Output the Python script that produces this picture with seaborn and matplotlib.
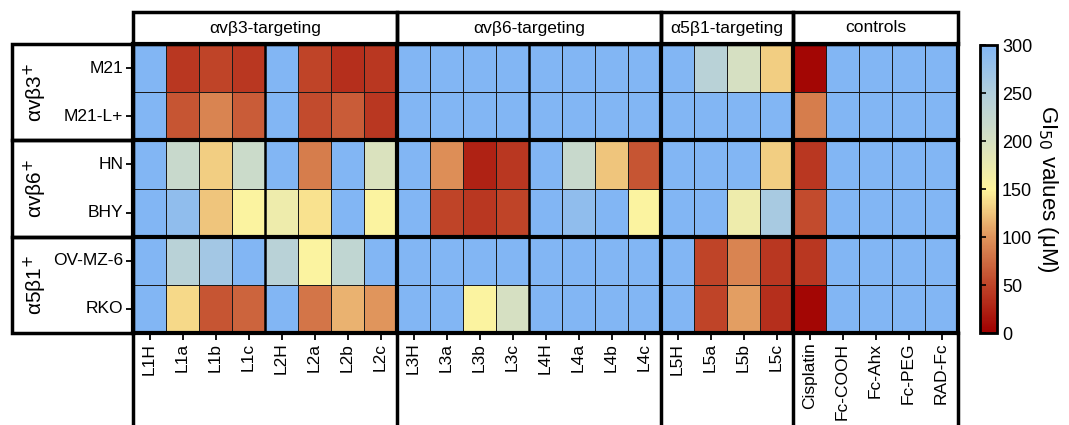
import numpy as np
import pandas as pd
import matplotlib
matplotlib.use('Agg')
import matplotlib.pyplot as plt
from matplotlib.colors import LinearSegmentedColormap
from matplotlib.patches import Rectangle
import seaborn as sns

cells = ['M21', 'M21-L+', 'HN', 'BHY', 'OV-MZ-6', 'RKO']
compounds = ['L1H', 'L1a', 'L1b', 'L1c', 'L2H', 'L2a', 'L2b', 'L2c',
             'L3H', 'L3a', 'L3b', 'L3c', 'L4H', 'L4a', 'L4b', 'L4c',
             'L5H', 'L5a', 'L5b', 'L5c',
             'Cisplatin', 'Fc-COOH', 'Fc-Ahx', 'Fc-PEG', 'RAD-Fc']
# GI50 values (uM), 300 = not reached
m21 = [300, 40, 50, 40, 300, 50, 35, 40, 300, 300, 300, 300, 300, 300, 300, 300, 300, 240, 200, 130, 5, 300, 300, 300, 300]
m21l = [300, 60, 90, 65, 300, 55, 65, 40, 300, 300, 300, 300, 300, 300, 300, 300, 300, 300, 300, 300, 85, 300, 300, 300, 300]
hn = [300, 220, 130, 215, 300, 85, 300, 195, 300, 95, 25, 40, 300, 220, 125, 60, 300, 300, 300, 130, 40, 300, 300, 300, 300]
bhy = [300, 285, 125, 155, 170, 140, 300, 155, 300, 50, 40, 50, 300, 285, 300, 155, 300, 300, 170, 260, 55, 300, 300, 300, 300]
ovmz = [300, 240, 265, 300, 240, 155, 230, 300, 300, 300, 300, 300, 300, 300, 300, 300, 300, 50, 90, 40, 40, 300, 300, 300, 300]
rko = [300, 135, 60, 70, 300, 80, 115, 100, 300, 300, 155, 200, 300, 300, 300, 300, 300, 50, 105, 35, 5, 300, 300, 300, 300]

col_groups = ['αvβ3-targeting', 'αvβ6-targeting', 'α5β1-targeting', 'controls']
col_bounds = [0, 8, 16, 20, 25]
row_groups = ['αvβ3$^{+}$', 'αvβ6$^{+}$', 'α5β1$^{+}$']
row_bounds = [0, 2, 4, 6]

df = pd.DataFrame([m21, m21l, hn, bhy, ovmz, rko], index=cells, columns=compounds)

cmap = LinearSegmentedColormap.from_list('gi50', [
    (0.0, '#a00000'), (0.167, '#bf4529'), (0.333, '#e0955c'),
    (0.5, '#fff59c'), (0.667, '#d6e0c2'), (0.833, '#b2cfdc'), (1.0, '#82b6f4')])

plt.rcParams['font.family'] = ['Liberation Sans', 'DejaVu Sans']

W, H = 1069, 425
fig = plt.figure(figsize=(W / 100, H / 100), dpi=100)
L, R, T, B = 133, 958, 44, 333
ax = fig.add_axes([L / W, 1 - B / H, (R - L) / W, (B - T) / H])
cax = fig.add_axes([980 / W, 1 - 333 / H, 17 / W, 288 / H])

sns.heatmap(df, ax=ax, cmap=cmap, vmin=0, vmax=300, linewidths=0.6, linecolor='#1a1a1a',
            cbar_ax=cax, cbar_kws={'ticks': [0, 50, 100, 150, 200, 250, 300]})

ax.tick_params(axis='both', length=5, width=1.3, color='black', labelsize=12.5, pad=2)
ax.set_xticklabels(compounds, rotation=90)
ax.set_yticklabels(cells, rotation=0)
ax.set_xlabel('')
ax.set_ylabel('')

# thick group lines inside the heatmap
for b in col_bounds:
    ax.plot([b, b], [0, 6], color='black', lw=3, clip_on=False, solid_capstyle='projecting')
for b in [4, 12]:
    ax.plot([b, b], [0, 6], color='black', lw=1.8, clip_on=False)
for b in row_bounds:
    ax.plot([0, 25], [b, b], color='black', lw=3, clip_on=False, solid_capstyle='projecting')

# header boxes
rh = (B - T) / 6
cw = (R - L) / 25
h0 = -(T - 12) / rh
for i, name in enumerate(col_groups):
    x0, x1 = col_bounds[i], col_bounds[i + 1]
    ax.add_patch(Rectangle((x0, h0), x1 - x0, -h0, fill=False, lw=2.5, ec='black', clip_on=False))
    ax.text((x0 + x1) / 2, h0 / 2, name, ha='center', va='center', fontsize=12.5)

# lines below the heatmap
for b in col_bounds:
    ax.plot([b, b], [6, 6 + (H - B) / rh + 0.1], color='black', lw=2.5, clip_on=False)

# row group boxes
lx = -(L - 12) / cw
for i, name in enumerate(row_groups):
    y0, y1 = row_bounds[i], row_bounds[i + 1]
    ax.add_patch(Rectangle((lx, y0), -lx, y1 - y0, fill=False, lw=2.5, ec='black', clip_on=False))
    ax.text(lx + 0.72, (y0 + y1) / 2, name, ha='center', va='center', rotation=90, fontsize=15)

cbar = ax.collections[0].colorbar
cbar.outline.set_linewidth(2)
cbar.outline.set_edgecolor('black')
cax.tick_params(labelsize=13, length=4, width=1.2, left=True, right=False,
                labelleft=False, labelright=True, direction='in')
cbar.set_label('GI$_{50}$ values (μM)', rotation=270, fontsize=16, labelpad=20)

fig.savefig('out.png', dpi=100)
